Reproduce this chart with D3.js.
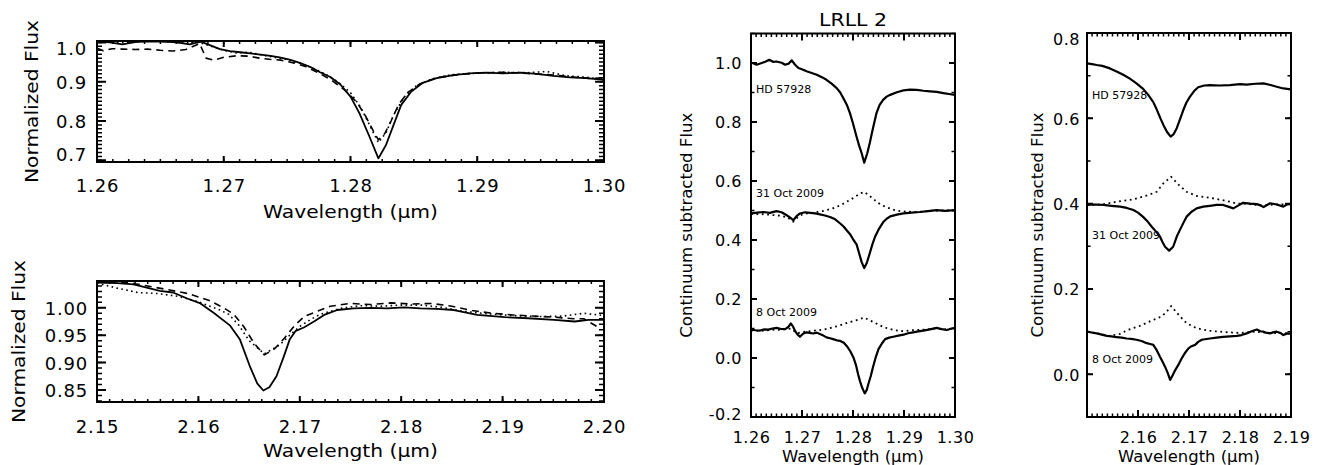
<!DOCTYPE html>
<html><head><meta charset="utf-8">
<script src="https://cdn.jsdelivr.net/npm/d3@7"></script>
<style>
body{margin:0;background:#fff}
text{font-family:"DejaVu Sans",sans-serif;fill:#000}
</style>
</head><body>
<svg id="c" width="1319" height="465" xmlns="http://www.w3.org/2000/svg"></svg>
<script>
// ---------------- DATA ----------------
// Panel 1: J band (Pa beta) normalized flux
const jSolid = [[1.2600,1.003],[1.2610,1.000],[1.2620,0.995],[1.2630,1.001],[1.2640,1.003],[1.2650,1.002],[1.2660,1.001],[1.2667,0.998],[1.2673,0.995],[1.2682,1.002],[1.2690,0.992],[1.2697,0.983],[1.2705,0.978],[1.2713,0.975],[1.2721,0.972],[1.2729,0.969],[1.2737,0.966],[1.2744,0.962],[1.2752,0.956],[1.2760,0.948],[1.2768,0.938],[1.2776,0.924],[1.2784,0.912],[1.2792,0.893],[1.2800,0.862],[1.2807,0.820],[1.2815,0.760],[1.2822,0.705],[1.2828,0.739],[1.2834,0.790],[1.2840,0.841],[1.2848,0.875],[1.2857,0.897],[1.2868,0.909],[1.2881,0.917],[1.2894,0.921],[1.2907,0.923],[1.2920,0.921],[1.2934,0.923],[1.2947,0.920],[1.2960,0.915],[1.2973,0.911],[1.2986,0.909],[1.3000,0.905]];
const jDashed = [[1.2600,0.985],[1.2605,0.979],[1.2612,0.984],[1.2620,0.983],[1.2630,0.982],[1.2640,0.983],[1.2650,0.980],[1.2660,0.978],[1.2670,0.982],[1.2676,0.990],[1.2681,0.997],[1.2686,0.960],[1.2692,0.955],[1.2700,0.962],[1.2710,0.966],[1.2720,0.965],[1.2728,0.960],[1.2736,0.957],[1.2745,0.955],[1.2755,0.948],[1.2765,0.938],[1.2775,0.922],[1.2785,0.904],[1.2795,0.880],[1.2805,0.848],[1.2812,0.812],[1.2818,0.775],[1.2822,0.752],[1.2827,0.768],[1.2832,0.800],[1.2838,0.842],[1.2845,0.872],[1.2855,0.895],[1.2868,0.910],[1.2885,0.918],[1.2900,0.922],[1.2920,0.924],[1.2940,0.921],[1.2960,0.917],[1.2975,0.912],[1.2990,0.908],[1.3000,0.910]];
const jDotted = [[1.2600,1.003],[1.2610,1.002],[1.2620,0.999],[1.2630,1.002],[1.2640,1.003],[1.2650,1.003],[1.2660,1.001],[1.2670,0.999],[1.2680,1.001],[1.2690,0.990],[1.2700,0.980],[1.2710,0.973],[1.2720,0.975],[1.2730,0.968],[1.2740,0.962],[1.2750,0.956],[1.2760,0.947],[1.2770,0.935],[1.2780,0.920],[1.2790,0.900],[1.2800,0.872],[1.2808,0.835],[1.2815,0.790],[1.2822,0.745],[1.2828,0.770],[1.2834,0.815],[1.2842,0.860],[1.2852,0.890],[1.2865,0.908],[1.2880,0.918],[1.2900,0.922],[1.2920,0.924],[1.2940,0.923],[1.2955,0.926],[1.2970,0.915],[1.2985,0.912],[1.3000,0.905]];

// Panel 2: K band (Br gamma) normalized flux
const kSolid = [[2.1500,1.046],[2.1520,1.045],[2.1536,1.043],[2.1549,1.037],[2.1562,1.031],[2.1575,1.028],[2.1589,1.017],[2.1602,1.008],[2.1615,0.991],[2.1631,0.968],[2.1641,0.942],[2.1651,0.892],[2.1658,0.862],[2.1664,0.849],[2.1670,0.855],[2.1677,0.875],[2.1684,0.910],[2.1690,0.942],[2.1696,0.958],[2.1704,0.964],[2.1714,0.975],[2.1724,0.987],[2.1737,0.996],[2.1753,0.999],[2.1770,1.000],[2.1786,0.999],[2.1803,1.001],[2.1819,0.999],[2.1835,0.998],[2.1852,0.996],[2.1875,0.987],[2.1902,0.983],[2.1925,0.981],[2.1951,0.978],[2.1971,0.975],[2.1985,0.978],[2.2000,0.978]];
const kDashed = [[2.1500,1.048],[2.1530,1.046],[2.1550,1.040],[2.1570,1.033],[2.1590,1.026],[2.1610,1.014],[2.1625,1.000],[2.1635,0.988],[2.1645,0.965],[2.1655,0.935],[2.1665,0.914],[2.1675,0.925],[2.1685,0.945],[2.1695,0.968],[2.1705,0.985],[2.1715,0.992],[2.1730,1.003],[2.1750,1.008],[2.1770,1.006],[2.1790,1.009],[2.1810,1.007],[2.1830,1.008],[2.1850,1.003],[2.1870,0.995],[2.1890,0.990],[2.1910,0.987],[2.1930,0.985],[2.1950,0.983],[2.1970,0.980],[2.1980,0.980],[2.1993,0.966]];
const kDotted = [[2.1500,1.045],[2.1520,1.036],[2.1540,1.028],[2.1560,1.026],[2.1580,1.021],[2.1600,1.011],[2.1620,0.997],[2.1630,0.988],[2.1640,0.968],[2.1650,0.940],[2.1665,0.916],[2.1680,0.932],[2.1690,0.950],[2.1700,0.966],[2.1710,0.978],[2.1720,0.988],[2.1740,0.999],[2.1760,1.004],[2.1780,1.003],[2.1800,1.005],[2.1820,1.005],[2.1840,1.001],[2.1860,0.994],[2.1880,0.990],[2.1900,0.987],[2.1920,0.985],[2.1940,0.984],[2.1960,0.985],[2.1980,0.990],[2.2000,0.986]];

// Panel 3: LRLL 2, Pa beta, continuum subtracted
const paHD = [[1.2600,1.002],[1.2611,0.994],[1.2621,1.000],[1.2628,1.004],[1.2636,1.011],[1.2643,1.004],[1.2650,1.005],[1.2660,1.001],[1.2667,0.994],[1.2674,0.998],[1.2680,1.009],[1.2686,0.995],[1.2693,0.983],[1.2701,0.978],[1.2709,0.972],[1.2719,0.966],[1.2729,0.960],[1.2739,0.952],[1.2748,0.943],[1.2758,0.930],[1.2768,0.915],[1.2775,0.900],[1.2781,0.881],[1.2788,0.858],[1.2794,0.830],[1.2800,0.795],[1.2807,0.750],[1.2812,0.720],[1.2817,0.694],[1.2822,0.662],[1.2828,0.694],[1.2833,0.730],[1.2837,0.762],[1.2842,0.800],[1.2846,0.830],[1.2852,0.857],[1.2859,0.875],[1.2866,0.886],[1.2873,0.892],[1.2886,0.901],[1.2899,0.907],[1.2912,0.910],[1.2925,0.909],[1.2938,0.906],[1.2951,0.904],[1.2964,0.902],[1.2977,0.898],[1.2988,0.895],[1.3000,0.892]];
const pa31Oct = [[1.2600,0.490],[1.2612,0.493],[1.2624,0.495],[1.2637,0.492],[1.2650,0.498],[1.2660,0.494],[1.2670,0.484],[1.2677,0.476],[1.2683,0.467],[1.2690,0.482],[1.2696,0.490],[1.2706,0.494],[1.2716,0.492],[1.2726,0.490],[1.2735,0.487],[1.2745,0.483],[1.2755,0.478],[1.2765,0.470],[1.2775,0.456],[1.2782,0.445],[1.2788,0.432],[1.2795,0.418],[1.2801,0.400],[1.2807,0.385],[1.2812,0.355],[1.2817,0.325],[1.2822,0.305],[1.2827,0.322],[1.2832,0.350],[1.2838,0.385],[1.2843,0.410],[1.2850,0.435],[1.2859,0.460],[1.2866,0.472],[1.2873,0.480],[1.2886,0.486],[1.2899,0.490],[1.2915,0.493],[1.2931,0.495],[1.2947,0.498],[1.2964,0.501],[1.2980,0.499],[1.3000,0.501]];
const pa31OctEm = [[1.2600,0.488],[1.2620,0.488],[1.2640,0.485],[1.2660,0.482],[1.2672,0.476],[1.2683,0.462],[1.2692,0.478],[1.2700,0.486],[1.2710,0.490],[1.2720,0.492],[1.2730,0.495],[1.2740,0.498],[1.2750,0.502],[1.2760,0.507],[1.2770,0.514],[1.2780,0.522],[1.2790,0.532],[1.2800,0.542],[1.2810,0.553],[1.2816,0.559],[1.2822,0.563],[1.2828,0.555],[1.2835,0.546],[1.2842,0.536],[1.2850,0.525],[1.2858,0.517],[1.2866,0.511],[1.2875,0.505],[1.2885,0.500],[1.2895,0.497],[1.2905,0.496],[1.2930,0.495],[1.2960,0.500],[1.3000,0.500]];
const pa8Oct = [[1.2600,0.096],[1.2609,0.094],[1.2618,0.093],[1.2626,0.097],[1.2634,0.096],[1.2642,0.100],[1.2650,0.102],[1.2658,0.099],[1.2667,0.098],[1.2673,0.105],[1.2678,0.117],[1.2682,0.108],[1.2686,0.093],[1.2691,0.080],[1.2696,0.072],[1.2702,0.082],[1.2709,0.087],[1.2715,0.085],[1.2722,0.083],[1.2729,0.086],[1.2735,0.081],[1.2742,0.076],[1.2748,0.070],[1.2755,0.067],[1.2761,0.064],[1.2768,0.060],[1.2775,0.058],[1.2782,0.052],[1.2788,0.040],[1.2795,0.022],[1.2801,0.001],[1.2806,-0.025],[1.2810,-0.055],[1.2814,-0.080],[1.2818,-0.101],[1.2823,-0.120],[1.2827,-0.108],[1.2830,-0.089],[1.2835,-0.060],[1.2839,-0.032],[1.2845,0.005],[1.2850,0.030],[1.2857,0.050],[1.2863,0.064],[1.2871,0.069],[1.2879,0.072],[1.2889,0.076],[1.2899,0.079],[1.2908,0.084],[1.2918,0.087],[1.2928,0.090],[1.2938,0.093],[1.2951,0.097],[1.2964,0.102],[1.2974,0.098],[1.2984,0.095],[1.2992,0.099],[1.3000,0.102]];
const pa8OctEm = [[1.2600,0.093],[1.2620,0.092],[1.2640,0.095],[1.2660,0.096],[1.2678,0.100],[1.2686,0.090],[1.2692,0.084],[1.2700,0.088],[1.2710,0.090],[1.2720,0.092],[1.2730,0.094],[1.2740,0.096],[1.2750,0.099],[1.2760,0.104],[1.2770,0.108],[1.2780,0.114],[1.2790,0.120],[1.2800,0.125],[1.2810,0.130],[1.2822,0.137],[1.2830,0.130],[1.2840,0.122],[1.2850,0.113],[1.2860,0.105],[1.2870,0.099],[1.2880,0.095],[1.2890,0.092],[1.2900,0.091],[1.2910,0.093],[1.2920,0.095],[1.2940,0.096],[1.2960,0.100],[1.2980,0.097],[1.3000,0.101]];

// Panel 4: Br gamma, continuum subtracted
const brHD = [[2.1500,0.729],[2.1510,0.727],[2.1519,0.725],[2.1530,0.723],[2.1545,0.717],[2.1558,0.710],[2.1571,0.702],[2.1584,0.693],[2.1597,0.682],[2.1610,0.669],[2.1620,0.655],[2.1630,0.638],[2.1637,0.620],[2.1644,0.600],[2.1650,0.584],[2.1657,0.568],[2.1664,0.557],[2.1670,0.563],[2.1676,0.577],[2.1683,0.600],[2.1689,0.620],[2.1695,0.637],[2.1702,0.651],[2.1710,0.664],[2.1718,0.673],[2.1730,0.677],[2.1741,0.678],[2.1760,0.677],[2.1780,0.678],[2.1800,0.680],[2.1813,0.679],[2.1830,0.681],[2.1846,0.682],[2.1860,0.678],[2.1872,0.674],[2.1885,0.670],[2.1900,0.668]];
const br31Oct = [[2.1500,0.397],[2.1515,0.398],[2.1532,0.397],[2.1548,0.395],[2.1565,0.393],[2.1578,0.390],[2.1591,0.385],[2.1600,0.379],[2.1610,0.369],[2.1619,0.358],[2.1627,0.346],[2.1635,0.335],[2.1643,0.323],[2.1648,0.310],[2.1653,0.299],[2.1661,0.290],[2.1669,0.299],[2.1676,0.323],[2.1682,0.338],[2.1689,0.355],[2.1695,0.369],[2.1705,0.381],[2.1715,0.389],[2.1728,0.393],[2.1741,0.395],[2.1754,0.397],[2.1767,0.397],[2.1777,0.393],[2.1787,0.389],[2.1797,0.396],[2.1806,0.402],[2.1820,0.400],[2.1833,0.399],[2.1840,0.396],[2.1846,0.392],[2.1853,0.397],[2.1859,0.401],[2.1872,0.398],[2.1885,0.393],[2.1892,0.398],[2.1900,0.399]];
const br31OctEm = [[2.1500,0.397],[2.1530,0.398],[2.1560,0.405],[2.1590,0.410],[2.1620,0.420],[2.1637,0.428],[2.1650,0.448],[2.1665,0.463],[2.1680,0.444],[2.1695,0.428],[2.1715,0.418],[2.1745,0.413],[2.1775,0.406],[2.1795,0.400],[2.1810,0.400],[2.1840,0.396],[2.1870,0.398],[2.1900,0.399]];
const br8Oct = [[2.1500,0.100],[2.1509,0.098],[2.1519,0.096],[2.1529,0.093],[2.1539,0.090],[2.1548,0.089],[2.1558,0.087],[2.1568,0.086],[2.1578,0.084],[2.1587,0.083],[2.1597,0.081],[2.1607,0.078],[2.1617,0.073],[2.1624,0.071],[2.1630,0.069],[2.1637,0.056],[2.1643,0.041],[2.1648,0.030],[2.1653,0.018],[2.1658,0.004],[2.1663,-0.013],[2.1668,-0.002],[2.1673,0.010],[2.1680,0.024],[2.1686,0.038],[2.1692,0.050],[2.1699,0.061],[2.1705,0.066],[2.1712,0.069],[2.1718,0.076],[2.1725,0.081],[2.1741,0.084],[2.1754,0.086],[2.1767,0.088],[2.1780,0.089],[2.1794,0.090],[2.1803,0.092],[2.1813,0.096],[2.1823,0.101],[2.1833,0.105],[2.1840,0.101],[2.1846,0.100],[2.1853,0.097],[2.1859,0.096],[2.1866,0.099],[2.1872,0.100],[2.1879,0.097],[2.1885,0.092],[2.1893,0.096],[2.1900,0.095]];
const br8OctEm = [[2.1500,0.100],[2.1520,0.096],[2.1545,0.090],[2.1565,0.095],[2.1580,0.104],[2.1605,0.114],[2.1625,0.125],[2.1645,0.135],[2.1655,0.145],[2.1665,0.160],[2.1680,0.139],[2.1695,0.120],[2.1715,0.108],[2.1740,0.102],[2.1770,0.099],[2.1800,0.097],[2.1830,0.100],[2.1860,0.097],[2.1900,0.096]];

// Tick values
const jTicksX = [1.26,1.27,1.28,1.29,1.30];
const jTicksY = [0.7,0.8,0.9,1.0];
const kTicksX = [2.15,2.16,2.17,2.18,2.19,2.20];
const kTicksY = [0.85,0.90,0.95,1.00];
const paTicksX = [1.26,1.27,1.28,1.29,1.30];
const paTicksY = [-0.2,0.0,0.2,0.4,0.6,0.8,1.0];
const brTicksX = [2.15,2.16,2.17,2.18,2.19];
const brTickLabelsX = ["","2.16","2.17","2.18","2.19"];
const brTicksY = [0.0,0.2,0.4,0.6,0.8];

// Text
const leftYTitle = "Normalized Flux";
const rightYTitle = "Continuum subtracted Flux";
const xTitle = "Wavelength (\u03BCm)";
const mainTitle = "LRLL 2";
const paNotes = [{t:"HD 57928",x:1.2610,y:0.898},{t:"31 Oct 2009",x:1.2610,y:0.546},{t:"8 Oct 2009",x:1.2610,y:0.142}];
const brNotes = [{t:"HD 57928",x:2.1510,y:0.645},{t:"31 Oct 2009",x:2.1510,y:0.317},{t:"8 Oct 2009",x:2.1510,y:0.027}];

// ---------------- DRAWING ----------------
const svg = d3.select("#c");
let clipId = 0;

function panel(o){
  const x = d3.scaleLinear().domain(o.xd).range([o.l,o.r]);
  const y = d3.scaleLinear().domain(o.yd).range([o.b,o.t]);
  const g = svg.append("g");
  const id = "clip"+(clipId++);
  g.append("clipPath").attr("id",id).append("rect")
    .attr("x",o.l).attr("y",o.t).attr("width",o.r-o.l).attr("height",o.b-o.t);

  const nx = Math.round((o.xd[1]-o.xd[0])/o.xMinStep);
  const xMinor = d3.range(nx+1).map(i=>o.xd[0]+i*o.xMinStep);
  const yStart = Math.ceil(o.yd[0]/o.yMinStep-1e-6);
  const yEnd = Math.floor(o.yd[1]/o.yMinStep+1e-6);
  const yMinor = d3.range(yStart,yEnd+1).map(i=>i*o.yMinStep);

  // inward tick marks on all four sides, positioned with the scales
  const tickPath = (vals, len, side) => vals.map(v=>{
    if (side==="b") return `M${x(v)},${o.b}v${-len}`;
    if (side==="t") return `M${x(v)},${o.t}v${len}`;
    if (side==="l") return `M${o.l},${y(v)}h${len}`;
    return `M${o.r},${y(v)}h${-len}`;
  }).join("");
  const tk = (d,w) => g.append("path").attr("d",d).attr("fill","none")
    .attr("stroke","#000").attr("stroke-width",w);
  tk(tickPath(xMinor,o.xMinLen,"b")+tickPath(xMinor,o.xMinLen,"t"), o.minW);
  tk(tickPath(yMinor,o.yMinLen,"l")+tickPath(yMinor,o.yMinLen,"r"), o.minW);
  tk(tickPath(o.xMajor,o.xMajLen,"b")+tickPath(o.xMajor,o.xMajLen,"t"), o.majW);
  tk(tickPath(o.yMajor,o.yMajLen,"l")+tickPath(o.yMajor,o.yMajLen,"r"), o.majW);

  // tick labels via d3 axes (tick marks suppressed; drawn above)
  const bx = g.append("g").attr("transform",`translate(0,${o.b})`)
    .call(d3.axisBottom(x).tickValues(o.xMajor).tickSize(0).tickPadding(0).tickFormat(o.xFmt));
  bx.select(".domain").remove(); bx.selectAll("line").remove();
  bx.selectAll("text").attr("y", o.xLabOff).attr("dy",0)
    .style("font-size",o.tickFont+"px").style("letter-spacing",o.tickLs+"px");
  const ly = g.append("g").attr("transform",`translate(${o.l},0)`)
    .call(d3.axisLeft(y).tickValues(o.yMajor).tickSize(0).tickPadding(o.yPad).tickFormat(o.yFmt));
  ly.select(".domain").remove(); ly.selectAll("line").remove();
  ly.selectAll(".tick").each(function(d){
    const ty = y(d);
    const cy = Math.max(o.t+o.yLabHalf, Math.min(o.b-o.yLabHalf, ty));
    d3.select(this).select("text").attr("y", cy-ty).attr("dy","0.36em")
      .style("font-size",o.tickFont+"px").style("letter-spacing",o.tickLs+"px");
  });

  // curves
  const line = d3.line().x(d=>x(d[0])).y(d=>y(d[1]));
  const cg = g.append("g").attr("clip-path",`url(#${id})`);
  o.series.forEach(s=>{
    cg.append("path").datum(s.data).attr("d",line).attr("fill","none")
      .attr("stroke","#000").attr("stroke-width",s.w)
      .attr("stroke-dasharray",s.dash||null)
      .attr("stroke-linejoin","round");
  });

  // frame
  g.append("rect").attr("x",o.l).attr("y",o.t).attr("width",o.r-o.l).attr("height",o.b-o.t)
    .attr("fill","none").attr("stroke","#000").attr("stroke-width",2);

  // notes
  (o.notes||[]).forEach(n=>{
    g.append("text").attr("x",x(n.x)).attr("y",y(n.y)).text(n.t)
      .style("font-size","11px");
  });

  // titles
  g.append("text").attr("x",(o.l+o.r)/2).attr("y",o.xTitleY).attr("text-anchor","middle")
    .attr("textLength",o.xTitleLen).attr("lengthAdjust","spacingAndGlyphs")
    .style("font-size",o.titleFont+"px").text(xTitle);
  g.append("text").attr("transform",`translate(${o.yTitleX},${(o.t+o.b)/2}) rotate(-90)`)
    .attr("text-anchor","middle").attr("textLength",o.yTitleLen).attr("lengthAdjust","spacingAndGlyphs")
    .style("font-size",o.yTitleFont+"px").text(o.yTitle);
  return {x,y};
}

const f1 = d=>d.toFixed(1), f2 = d=>d.toFixed(2);
const dashS = "7,5", dotS = "1.6,3.4";

// Panel 1
panel({xd:[1.26,1.30], yd:[0.6957,1.0036], l:97, r:604, t:41, b:162,
  xMajor:jTicksX, yMajor:jTicksY, xMinStep:0.00125, yMinStep:0.01,
  xMajLen:6, xMinLen:3, yMajLen:9, yMinLen:5, majW:2, minW:1.5,
  xFmt:f2, yFmt:f1, xLabOff:30, yPad:10, yLabHalf:7.5, tickFont:18, tickLs:0.8,
  xTitleY:218, xTitleLen:175, titleFont:18,
  yTitle:leftYTitle, yTitleX:38, yTitleLen:163, yTitleFont:18,
  series:[{data:jDotted,w:1.6,dash:dotS},{data:jDashed,w:1.6,dash:dashS},{data:jSolid,w:1.8}]});

// Panel 2
panel({xd:[2.15,2.20], yd:[0.828,1.049], l:97, r:604, t:281, b:402,
  xMajor:kTicksX, yMajor:kTicksY, xMinStep:0.00125, yMinStep:0.01,
  xMajLen:6, xMinLen:3, yMajLen:9, yMinLen:5, majW:2, minW:1.5,
  xFmt:f2, yFmt:f2, xLabOff:31, yPad:9, yLabHalf:7.5, tickFont:18, tickLs:0.8,
  xTitleY:457, xTitleLen:175, titleFont:18,
  yTitle:leftYTitle, yTitleX:25, yTitleLen:163, yTitleFont:18,
  series:[{data:kDotted,w:1.6,dash:dotS},{data:kDashed,w:1.6,dash:dashS},{data:kSolid,w:1.8}]});

// Panel 3
panel({xd:[1.26,1.30], yd:[-0.2,1.1], l:751, r:955, t:33.5, b:417,
  xMajor:paTicksX, yMajor:paTicksY, xMinStep:0.001, yMinStep:0.1,
  xMajLen:7, xMinLen:3.5, yMajLen:6, yMinLen:3.5, majW:2, minW:1.5,
  xFmt:f2, yFmt:f1, xLabOff:26, yPad:9, yLabHalf:3, tickFont:16, tickLs:0.5,
  xTitleY:462, xTitleLen:142, titleFont:16,
  yTitle:rightYTitle, yTitleX:692, yTitleLen:225, yTitleFont:16.5,
  notes:paNotes,
  series:[{data:pa31OctEm,w:1.8,dash:"1.8,3.6"},{data:pa8OctEm,w:1.8,dash:"1.8,3.6"},
          {data:paHD,w:2.2},{data:pa31Oct,w:2.2},{data:pa8Oct,w:2.2}]});

// Panel 4
panel({xd:[2.15,2.19], yd:[-0.1,0.8], l:1087, r:1291, t:33, b:417,
  xMajor:brTicksX, yMajor:brTicksY, xMinStep:0.001, yMinStep:0.1,
  xMajLen:7, xMinLen:3.5, yMajLen:6, yMinLen:3.5, majW:2, minW:1.5,
  xFmt:(d,i)=>brTickLabelsX[i], yFmt:f1, xLabOff:26, yPad:7, yLabHalf:6, tickFont:16, tickLs:0.5,
  xTitleY:462, xTitleLen:142, titleFont:16,
  yTitle:rightYTitle, yTitleX:1043, yTitleLen:225, yTitleFont:16.5,
  notes:brNotes,
  series:[{data:br31OctEm,w:1.8,dash:"1.8,3.6"},{data:br8OctEm,w:1.8,dash:"1.8,3.6"},
          {data:brHD,w:2.2},{data:br31Oct,w:2.2},{data:br8Oct,w:2.2}]});

// Main title
svg.append("text").attr("x",853).attr("y",26).attr("text-anchor","middle")
  .attr("textLength",68).attr("lengthAdjust","spacingAndGlyphs")
  .style("font-size","17px").text(mainTitle);
</script>
</body></html>
